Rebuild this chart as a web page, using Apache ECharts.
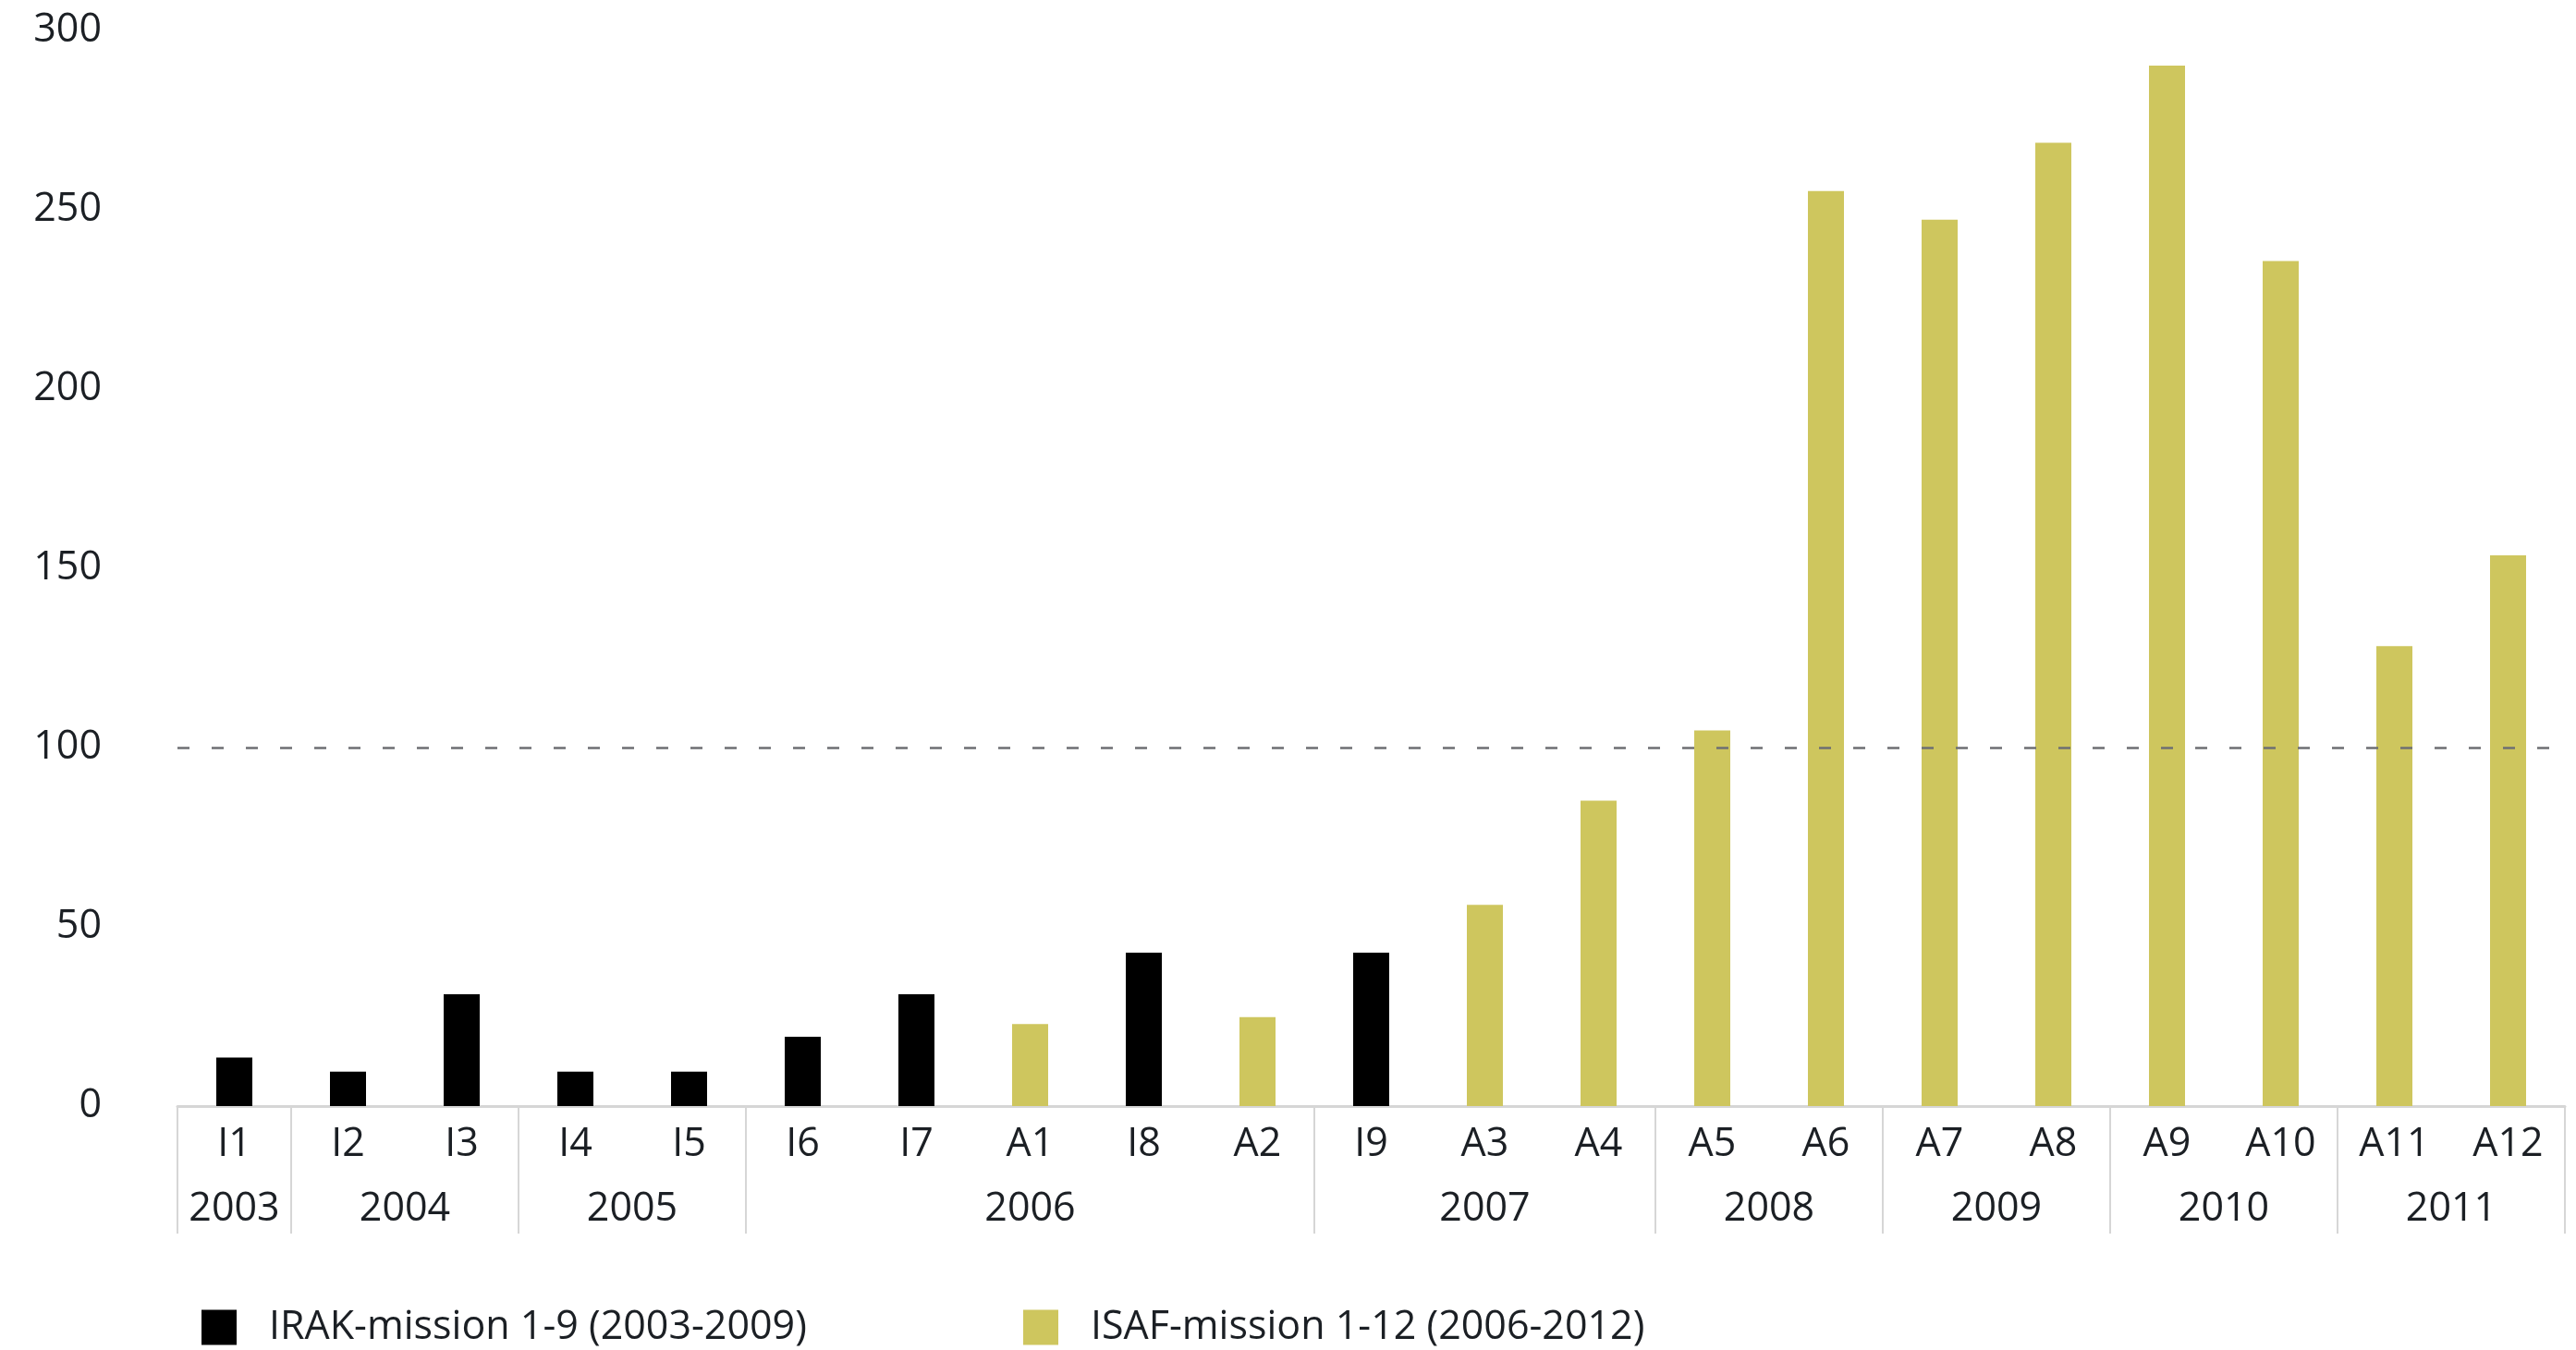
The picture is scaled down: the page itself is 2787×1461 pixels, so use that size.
<!DOCTYPE html>
<html>
<head>
<meta charset="utf-8">
<script src="https://cdn.jsdelivr.net/npm/echarts@6/dist/echarts.min.js"></script>
<style>
html,body{margin:0;padding:0;background:#ffffff;}
#chart{width:2787px;height:1461px;}
</style>
</head>
<body>
<div id="chart"></div>
<script>
// ---- data ----
const categories = ['I1','I2','I3','I4','I5','I6','I7','A1','I8','A2','I9','A3','A4','A5','A6','A7','A8','A9','A10','A11','A12'];
const irakValues = [13.5, 9.6, 31.2, 9.6, 9.6, 19.3, 31.2, null, 42.8, null, 42.8, null, null, null, null, null, null, null, null, null, null];
const isafValues = [null, null, null, null, null, null, null, 22.9, null, 24.8, null, 56.1, 85.2, 104.8, 255.2, 247.2, 268.7, 290.2, 235.7, 128.3, 153.6];
const yearLabels = ['2003','2004','2005','2006','2007','2008','2009','2010','2011'];
const yearSizes = [1, 2, 2, 5, 3, 2, 2, 2, 2];
const seriesNames = ['IRAK-mission 1-9 (2003-2009)', 'ISAF-mission 1-12 (2006-2012)'];
const yMin = 0, yMax = 300, yStep = 50;
const referenceLevel = 100;

// ---- year (group) axis built from the groups: 2n+1 boundary points ----
const nPts = 2 * categories.length + 1;
const yearAxisData = Array.from({length: nPts}, (_, j) => String(j));
const yearLabelAt = {};
const groupEdges = new Set();
let start = 0;
yearSizes.forEach((n, g) => {
  groupEdges.add(2 * start);
  yearLabelAt[2 * start + n] = yearLabels[g];
  start += n;
});
groupEdges.add(2 * start);

const FONT = 'Open Sans';
const TXT = '#1b1f24';
const AXIS_GRAY = '#d6d6d6';

const chart = echarts.init(document.getElementById('chart'), null, {renderer: 'canvas'});
chart.setOption({
  backgroundColor: '#ffffff',
  animation: false,
  textStyle: {fontFamily: FONT},
  grid: {left: 192, right: 12, top: 33, bottom: 264, containLabel: false},
  legend: [
    {
      data: [seriesNames[0]], left: 213, top: 1410, itemWidth: 38, itemHeight: 38, icon: 'rect',
      textStyle: {fontFamily: FONT, fontSize: 43, color: TXT, padding: [0, 0, 0, 30]}
    },
    {
      data: [seriesNames[1]], left: 1102, top: 1410, itemWidth: 38, itemHeight: 38, icon: 'rect',
      textStyle: {fontFamily: FONT, fontSize: 43, color: TXT, padding: [0, 0, 0, 30]}
    }
  ],
  xAxis: [
    {
      type: 'category',
      data: categories,
      position: 'bottom',
      axisLine: {show: true, lineStyle: {color: AXIS_GRAY, width: 3}},
      axisTick: {show: false},
      axisLabel: {interval: 0, margin: 20, fontSize: 43, color: TXT, fontFamily: FONT},
      splitLine: {show: false}
    },
    {
      type: 'category',
      data: yearAxisData,
      boundaryGap: false,
      position: 'bottom',
      axisLine: {show: false},
      axisTick: {
        show: true, inside: false, length: 138,
        interval: (idx) => groupEdges.has(idx),
        lineStyle: {color: AXIS_GRAY, width: 2}
      },
      axisLabel: {
        interval: 0, margin: 90, fontSize: 43, color: TXT, fontFamily: FONT,
        formatter: (v) => yearLabelAt[+v] || ''
      },
      splitLine: {show: false}
    }
  ],
  yAxis: {
    type: 'value',
    min: yMin, max: yMax, interval: yStep,
    axisLine: {show: false},
    axisTick: {show: false},
    splitLine: {show: false},
    axisLabel: {fontSize: 43, color: TXT, fontFamily: FONT, margin: 82}
  },
  series: [
    {
      name: seriesNames[0],
      type: 'bar',
      xAxisIndex: 0,
      data: irakValues,
      barWidth: 39,
      barGap: '-100%',
      itemStyle: {color: '#000000'}
    },
    {
      name: seriesNames[1],
      type: 'bar',
      xAxisIndex: 0,
      data: isafValues,
      barWidth: 39,
      barGap: '-100%',
      itemStyle: {color: '#cec65e'},
      markLine: {
        silent: true,
        symbol: 'none',
        label: {show: false},
        lineStyle: {color: '#6d6f73', width: 2.5, type: [13, 24]},
        data: [{yAxis: referenceLevel}]
      }
    }
  ]
});
</script>
</body>
</html>
